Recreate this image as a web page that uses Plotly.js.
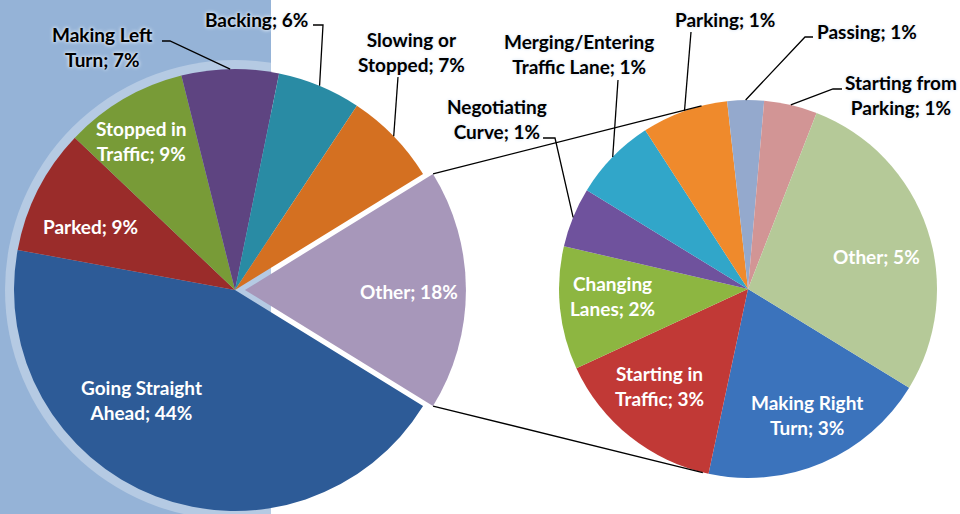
<!DOCTYPE html>
<html>
<head>
<meta charset="utf-8">
<script src="https://cdn.plot.ly/plotly-3.0.1.min.js"></script>
<style>
html, body { margin: 0; padding: 0; overflow: hidden; background: #ffffff; }
#chart { width: 960px; height: 540px; }
</style>
</head>
<body>
<div id="chart"></div>
<script>
// ---------------- DATA ----------------
const leftCategories = ['Other', 'Going Straight Ahead', 'Parked', 'Stopped in Traffic',
  'Making Left Turn', 'Backing', 'Slowing or Stopped'];
const leftValues = [17.6, 44.1, 9.2, 9.0, 7.1, 6.1, 6.9];

const rightCategories = ['Making Right Turn', 'Starting in Traffic', 'Changing Lanes',
  'Negotiating Curve', 'Merging/Entering Traffic Lane', 'Parking', 'Passing',
  'Starting from Parking', 'Other'];
const rightValues = [3.45, 2.6, 1.85, 0.9, 1.25, 1.3, 0.55, 0.8, 4.9];

// ---------------- STYLE / LAYOUT ----------------
const leftColors = ['#A797BA', '#2D5B97', '#9A2C2A', '#789B37', '#5E4481', '#298BA4', '#D47021'];
const rightColors = ['#3B73BC', '#C13936', '#8DB641', '#6F529D', '#31A6C9', '#EF8A2C', '#94A9CD', '#D29595', '#B5C998'];

// number of words on the first line of each wrapped label
const firstLineWords = {
  'Making Left Turn': 2, 'Stopped in Traffic': 2, 'Going Straight Ahead': 2,
  'Slowing or Stopped': 2, 'Merging/Entering Traffic Lane': 1, 'Negotiating Curve': 1,
  'Starting from Parking': 2, 'Changing Lanes': 1, 'Starting in Traffic': 2, 'Making Right Turn': 2
};

// label placement (pixels), parallel to the category arrays
const leftLabelLayout = [
  { pos: [409, 291], inside: true },
  { pos: [141, 400], inside: true },
  { pos: [90, 226], inside: true },
  { pos: [141, 141], inside: true },
  { pos: [102, 47], leader: [[162, 41], [170, 41]] },
  { pos: [256, 19], leader: [[313, 25], [323, 25]] },
  { pos: [411, 52], leader: [[398, 77]] }
];
const rightLabelLayout = [
  { pos: [807, 415], inside: true },
  { pos: [659, 386], inside: true },
  { pos: [612, 296], inside: true },
  { pos: [497, 119], leader: [[543, 138], [555, 138]] },
  { pos: [579, 54], leader: [[618, 80]] },
  { pos: [725, 20], leader: [[691, 32]] },
  { pos: [867, 32], leader: [[813, 37], [805, 37]] },
  { pos: [901, 95], leader: [[842, 89], [833, 89]] },
  { pos: [876, 257], inside: true }
];

const W = 960, H = 540;
const L = { cx: 235, cy: 290, r: 221, pull: 0.045 };
const R = { cx: 748, cy: 289, r: 189, rotation: 121.5 };
const FONT = "Lato, 'Open Sans', 'DejaVu Sans', sans-serif";
const FONT_SIZE = 19;

const px = x => x / W;
const py = y => 1 - y / H;
const deg = Math.PI / 180;

function domainFor(g, pull) {
  const half = g.r * (1 + pull);
  return { x: [px(g.cx - half), px(g.cx + half)], y: [py(g.cy + half), py(g.cy - half)] };
}
function sum(a) { return a.reduce((s, v) => s + v, 0); }
function sliceAngles(values, rotation) {
  const tot = sum(values);
  let a = rotation;
  return values.map(v => {
    const s = a, e = a + v / tot * 360;
    a = e;
    return { start: s, end: e, mid: (s + e) / 2 };
  });
}
function edgePoint(g, angle, rr) {
  const r = rr === undefined ? g.r : rr;
  return [g.cx + r * Math.sin(angle * deg), g.cy - r * Math.cos(angle * deg)];
}
function labelText(name, value) {
  const w = name.split(' ');
  const k = firstLineWords[name];
  const nm = k ? w.slice(0, k).join(' ') + '<br>' + w.slice(k).join(' ') : name;
  return nm + '; ' + Math.round(value) + '%';
}
function pathOf(points) {
  return points.map((p, i) => (i ? 'L' : 'M') + px(p[0]).toFixed(5) + ',' + py(p[1]).toFixed(5)).join(' ');
}

const leftOtherIdx = leftCategories.indexOf('Other');
const leftTotal = sum(leftValues);
const otherDeg = leftValues[leftOtherIdx] / leftTotal * 360;
// Other slice centred on 3 o'clock
let before = 0;
for (let i = 0; i < leftOtherIdx; i++) before += leftValues[i] / leftTotal * 360;
const leftRotation = 90 - otherDeg / 2 - before;

const leftAng = sliceAngles(leftValues, leftRotation);
const rightAng = sliceAngles(rightValues, R.rotation);

const traces = [
  {
    type: 'pie', labels: leftCategories, values: leftValues, sort: false,
    direction: 'clockwise', rotation: leftRotation,
    pull: leftCategories.map((c, i) => i === leftOtherIdx ? L.pull : 0),
    marker: { colors: leftColors, line: { width: 0 } },
    textinfo: 'none', hoverinfo: 'skip', domain: domainFor(L, L.pull), showlegend: false
  },
  {
    type: 'pie', labels: rightCategories, values: rightValues, sort: false,
    direction: 'clockwise', rotation: R.rotation,
    marker: { colors: rightColors, line: { width: 0 } },
    textinfo: 'none', hoverinfo: 'skip', domain: domainFor(R, 0), showlegend: false
  }
];

const shapes = [
  { type: 'rect', xref: 'paper', yref: 'paper', x0: 0, x1: px(271), y0: 0, y1: 1,
    fillcolor: '#95B3D7', line: { width: 0 }, layer: 'below' },
  { type: 'circle', xref: 'paper', yref: 'paper',
    x0: px(L.cx - L.r - 9), x1: px(L.cx + L.r + 9), y0: py(L.cy + L.r + 9), y1: py(L.cy - L.r - 9),
    fillcolor: 'rgba(255,255,255,0.30)', line: { width: 0 }, layer: 'below' }
];
const annotations = [];

function addLabels(cats, vals, angs, lay, g) {
  cats.forEach((c, i) => {
    const cfg = lay[i];
    const inside = !!cfg.inside;
    const font = { family: FONT, size: FONT_SIZE, weight: 700, color: inside ? '#ffffff' : '#000000' };
    if (!inside) font.shadow = '0 0 4px #e3ecf7, 0 0 3px #e3ecf7';
    annotations.push({
      xref: 'paper', yref: 'paper', x: px(cfg.pos[0]), y: py(cfg.pos[1]),
      xanchor: 'center', yanchor: 'middle', align: 'center', showarrow: false,
      text: labelText(c, vals[i]), font: font
    });
    if (cfg.leader) {
      const pts = cfg.leader.concat([edgePoint(g, angs[i].mid)]);
      shapes.push({ type: 'path', xref: 'paper', yref: 'paper', path: pathOf(pts),
        line: { color: '#000000', width: 1.3 } });
    }
  });
}
addLabels(leftCategories, leftValues, leftAng, leftLabelLayout, L);
addLabels(rightCategories, rightValues, rightAng, rightLabelLayout, R);

// series lines: from the exploded "Other" slice corners, tangent to the second pie
const oMid = leftAng[leftOtherIdx].mid;
const off = [L.pull * L.r * Math.sin(oMid * deg), -L.pull * L.r * Math.cos(oMid * deg)];
function corner(angle) {
  const p = edgePoint(L, angle);
  return [p[0] + off[0], p[1] + off[1]];
}
function tangent(P, upper) {
  const dx = P[0] - R.cx, dy = P[1] - R.cy;
  const d = Math.hypot(dx, dy);
  const th = Math.atan2(dy, dx);
  const al = Math.acos(R.r / d);
  const t1 = [R.cx + R.r * Math.cos(th + al), R.cy + R.r * Math.sin(th + al)];
  const t2 = [R.cx + R.r * Math.cos(th - al), R.cy + R.r * Math.sin(th - al)];
  if (upper) return t1[1] < t2[1] ? t1 : t2;
  return t1[1] > t2[1] ? t1 : t2;
}
const topStart = corner(leftAng[leftOtherIdx].start);
const botStart = corner(leftAng[leftOtherIdx].end);
shapes.push({ type: 'path', xref: 'paper', yref: 'paper', path: pathOf([topStart, tangent(topStart, true)]),
  line: { color: '#000000', width: 1.3 } });
shapes.push({ type: 'path', xref: 'paper', yref: 'paper', path: pathOf([botStart, tangent(botStart, false)]),
  line: { color: '#000000', width: 1.3 } });

const layout = {
  width: W, height: H,
  margin: { l: 0, r: 0, t: 0, b: 0, pad: 0 },
  paper_bgcolor: '#ffffff', plot_bgcolor: '#ffffff',
  showlegend: false,
  shapes: shapes,
  annotations: annotations
};

Plotly.newPlot('chart', traces, layout, { staticPlot: true, displayModeBar: false });
</script>
</body>
</html>
